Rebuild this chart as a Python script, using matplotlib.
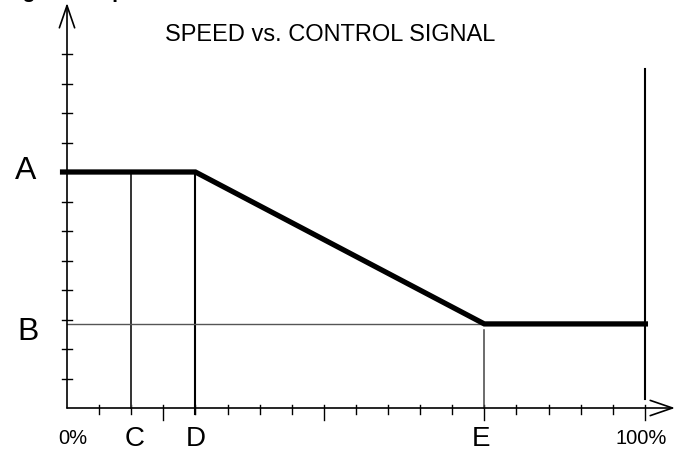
import matplotlib
matplotlib.use("Agg")

import matplotlib.pyplot as plt

# --- Data (tick units: x = 18 steps to 100%, y = 12 steps) ---
A_LEVEL = 8.0
B_LEVEL = 2.85
C_POS, D_POS, E_POS, FULL_POS = 2, 4, 13, 18

curve_x = [-0.22, D_POS, E_POS, FULL_POS + 0.1]
curve_y = [A_LEVEL, A_LEVEL, B_LEVEL, B_LEVEL]

x_minor = [i for i in range(1, 19) if i not in (3, 8, 13, 18)]
x_major = [3, 8, 13, 18]
y_ticks = list(range(1, 13))

x_labels = ["C", "D", "E"]
x_label_pos = [C_POS + 0.12, D_POS, E_POS - 0.1]

plt.rcParams["font.family"] = ["Liberation Sans", "DejaVu Sans"]

# --- Geometry (pixels) ---
W, H, DPI = 683, 453, 100
X0, Y0 = 67, 408          # origin in pixels (from top)
XU, YU = 32.1, 29.5       # pixels per tick unit

fig = plt.figure(figsize=(W / DPI, H / DPI), dpi=DPI)
ax = fig.add_axes([0, 0, 1, 1])
ax.set_xlim(-X0 / XU, (W - X0) / XU)
ax.set_ylim(-(H - Y0) / YU, Y0 / YU)
for s in ax.spines.values():
    s.set_visible(False)
ax.set_xticks([])
ax.set_yticks([])

# axes with open arrowheads
ax.annotate("", xy=(0, (Y0 - 3) / YU), xytext=(0, 0),
            arrowprops=dict(arrowstyle="->,head_length=1.6,head_width=0.55",
                            lw=1.2, color="black", shrinkA=0, shrinkB=0))
ax.annotate("", xy=((675 - X0) / XU, 0), xytext=(0, 0),
            arrowprops=dict(arrowstyle="->,head_length=1.6,head_width=0.55",
                            lw=1.2, color="black", shrinkA=0, shrinkB=0))

# tick marks
for y in y_ticks:
    ax.plot([-5 / XU, 5 / XU], [y, y], color="black", lw=1)
for x in x_minor:
    ax.plot([x, x], [0.1, -6 / YU], color="black", lw=1)
for x in x_major:
    ax.plot([x, x], [0.1, -12 / YU], color="black", lw=1)

# reference lines
ax.plot([C_POS, C_POS], [0, A_LEVEL], color="#333333", lw=1.4)
ax.plot([D_POS, D_POS], [-6 / YU, A_LEVEL], color="black", lw=1.5)
ax.plot([E_POS, E_POS], [0, B_LEVEL - 0.2], color="#444444", lw=1.1)
ax.plot([0, E_POS], [B_LEVEL, B_LEVEL], color="#555555", lw=1.0)
ax.plot([FULL_POS, FULL_POS], [0.3, 11.5], color="black", lw=1.5)

# speed curve
ax.plot(curve_x, curve_y, color="black", lw=3.8, solid_capstyle="butt",
        solid_joinstyle="miter", clip_on=False)

# labels
ax.text(8.19, 12.44, "SPEED vs. CONTROL SIGNAL", fontsize=17,
        ha="center", va="baseline")
ax.text(-1.28, 7.76, "A", fontsize=23, ha="center", va="baseline")
ax.text(-1.22, 2.3, "B", fontsize=23, ha="center", va="baseline")
for lbl, xp in zip(x_labels, x_label_pos):
    ax.text(xp, -1.29, lbl, fontsize=20, ha="center", va="baseline")
ax.text(0.19, -1.22, "0%", fontsize=14.5, ha="center", va="baseline")
ax.text(17.88, -1.22, "100%", fontsize=14.5, ha="center", va="baseline")

# clipped heading above the figure
fig.text(4 / W, 1.004, "Figure 5: Speed", fontsize=15, fontweight="bold",
         ha="left", va="baseline")

fig.savefig("out.png", dpi=DPI)
